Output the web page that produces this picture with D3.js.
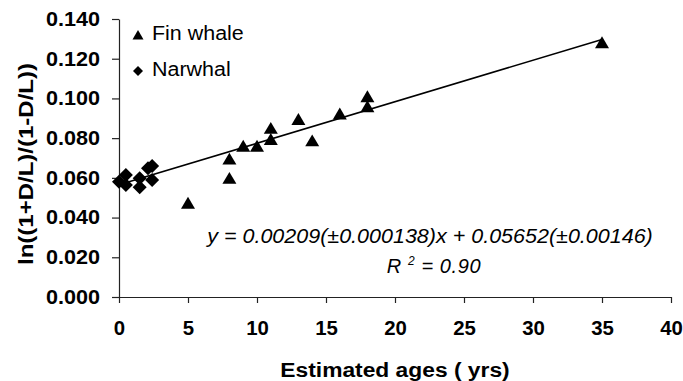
<!DOCTYPE html>
<meta charset="utf-8">
<html>
<head>
<style>
  body { margin: 0; background: #fff; }
  svg { display: block; font-family: Arial, "Liberation Sans", Helvetica, sans-serif; }
</style>
</head>
<body>
<svg width="683" height="381"></svg>
<script src="https://d3js.org/d3.v7.min.js"></script>
<script>

// fin whale points (estimated age in yrs, ln((1+D/L)/(1-D/L)))
var finAges = [5, 8, 8, 9, 10, 11, 11, 13, 14, 16, 18, 18, 35];
var finVals = [0.0473, 0.0598, 0.0695, 0.0760, 0.0760, 0.0794, 0.0850, 0.0895, 0.0787, 0.0922, 0.0959, 0.1009, 0.1281];

// narwhal points
var narAges = [0, 0.5, 0.5, 1.5, 1.5, 2.1, 2.4, 2.4];
var narVals = [0.0581, 0.0615, 0.0564, 0.0598, 0.0553, 0.0648, 0.0660, 0.0589];

// regression fit from the chart
var slope = 0.00209, intercept = 0.05652;
var fitRange = [0, 35];

var xTicks = [0, 5, 10, 15, 20, 25, 30, 35, 40];
var yTicks = [0, 0.02, 0.04, 0.06, 0.08, 0.10, 0.12, 0.14];

var svg = d3.select("svg");

var x = d3.scaleLinear().domain([0, 40]).range([119, 671]);
var y = d3.scaleLinear().domain([0, 0.14]).range([297, 19]);

// stretch text a bit wider, the original is drawn wide
function widen(sel, k) {
  sel.each(function() {
    var w = this.getComputedTextLength();
    d3.select(this).attr("textLength", w * k).attr("lengthAdjust", "spacingAndGlyphs");
  });
}

var yAxis = svg.append("g")
    .attr("transform", "translate(" + x(0) + ",0)")
    .call(d3.axisLeft(y).tickValues(yTicks).tickFormat(d3.format(".3f"))
      .tickSize(7).tickSizeOuter(0).tickPadding(12));

var xAxis = svg.append("g")
    .attr("transform", "translate(0," + y(0) + ")")
    .call(d3.axisBottom(x).tickValues(xTicks).tickFormat(d3.format("d"))
      .tickSize(6).tickSizeOuter(0).tickPadding(18));

svg.selectAll(".domain").attr("stroke", "#222").attr("stroke-width", 1.2);
svg.selectAll(".tick line").attr("stroke", "#222").attr("stroke-width", 1.2);
svg.selectAll(".tick text")
    .attr("fill", "#000")
    .style("font-family", "Arial, 'Liberation Sans', sans-serif")
    .style("font-size", "20px")
    .style("font-weight", "bold");
widen(yAxis.selectAll(".tick text"), 1.08);
widen(xAxis.selectAll(".tick text"), 1.02);

// fitted line
svg.append("line")
    .attr("x1", x(fitRange[0])).attr("y1", y(slope * fitRange[0] + intercept))
    .attr("x2", x(fitRange[1])).attr("y2", y(slope * fitRange[1] + intercept))
    .attr("stroke", "#000").attr("stroke-width", 1.6);

var triPath = "M0,-6.3L7,5.6L-7,5.6Z";
var diaPath = "M0,-7L7,0L0,7L-7,0Z";

svg.append("g").selectAll("path")
    .data(narAges.map(function(a, i) { return [a, narVals[i]]; }))
    .enter().append("path")
    .attr("d", diaPath)
    .attr("transform", function(d) { return "translate(" + x(d[0]) + "," + y(d[1]) + ")"; })
    .attr("fill", "#000");

svg.append("g").selectAll("path")
    .data(finAges.map(function(a, i) { return [a, finVals[i]]; }))
    .enter().append("path")
    .attr("d", triPath)
    .attr("transform", function(d) { return "translate(" + x(d[0]) + "," + y(d[1]) + ")"; })
    .attr("fill", "#000");

// legend
var legend = svg.append("g");
legend.append("path").attr("d", "M0,-5L5.5,4.4L-5.5,4.4Z").attr("transform", "translate(138,35)");
legend.append("path").attr("d", "M0,-5L5,0L0,5L-5,0Z").attr("transform", "translate(138,71)");
var legText = legend.selectAll("text")
    .data(["Fin whale", "Narwhal"])
    .enter().append("text")
    .attr("x", 152)
    .attr("y", function(d, i) { return 40 + i * 36; })
    .style("font-size", "19.5px")
    .text(function(d) { return d; });
widen(legText, 1.1);

// equation
var eq = svg.append("text")
    .attr("x", 430).attr("y", 243)
    .attr("text-anchor", "middle")
    .style("font-size", "20px").style("font-style", "italic")
    .text("y = 0.00209(\u00b10.000138)x + 0.05652(\u00b10.00146)");
widen(eq, 1.075);

var r2 = svg.append("text")
    .attr("x", 434).attr("y", 273)
    .attr("text-anchor", "middle")
    .style("font-size", "20px").style("font-style", "italic")
    .style("letter-spacing", "0.6px");
r2.append("tspan").text("R ");
r2.append("tspan").attr("dy", -8).style("font-size", "12px").text("2");
r2.append("tspan").attr("dy", 8).text(" = 0.90");

// axis titles
var xt = svg.append("text")
    .attr("x", 395).attr("y", 377)
    .attr("text-anchor", "middle")
    .style("font-size", "20px").style("font-weight", "bold")
    .text("Estimated ages ( yrs)");
widen(xt, 1.14);

var yt = svg.append("text")
    .attr("transform", "translate(33,164) rotate(-90)")
    .attr("text-anchor", "middle")
    .style("font-size", "20px").style("font-weight", "bold")
    .text("ln((1+D/L)/(1-D/L))");
widen(yt, 1.2);

</script>
</body>
</html>
